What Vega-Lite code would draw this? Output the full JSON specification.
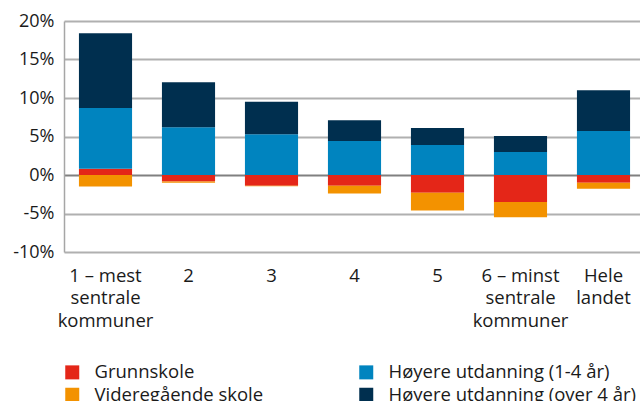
{
  "$schema": "https://vega.github.io/schema/vega-lite/v6.json",
  "width": 581,
  "height": 231,
  "autosize": "none",
  "padding": {"left": 64, "top": 21, "right": 0, "bottom": 149},
  "background": "white",
  "config": {"font": "Open Sans", "view": {"stroke": null}},
  "data": {
    "values": [
      {"region": "1 – mest sentrale kommuner", "series": "Grunnskole", "value": 0.8},
      {"region": "1 – mest sentrale kommuner", "series": "Videregående skole", "value": -1.5},
      {"region": "1 – mest sentrale kommuner", "series": "Høyere utdanning (1-4 år)", "value": 7.9},
      {"region": "1 – mest sentrale kommuner", "series": "Høyere utdanning (over 4 år)", "value": 9.7},
      {"region": "2", "series": "Grunnskole", "value": -0.85},
      {"region": "2", "series": "Videregående skole", "value": -0.15},
      {"region": "2", "series": "Høyere utdanning (1-4 år)", "value": 6.2},
      {"region": "2", "series": "Høyere utdanning (over 4 år)", "value": 5.85},
      {"region": "3", "series": "Grunnskole", "value": -1.4},
      {"region": "3", "series": "Videregående skole", "value": -0.05},
      {"region": "3", "series": "Høyere utdanning (1-4 år)", "value": 5.3},
      {"region": "3", "series": "Høyere utdanning (over 4 år)", "value": 4.2},
      {"region": "4", "series": "Grunnskole", "value": -1.4},
      {"region": "4", "series": "Videregående skole", "value": -1.0},
      {"region": "4", "series": "Høyere utdanning (1-4 år)", "value": 4.4},
      {"region": "4", "series": "Høyere utdanning (over 4 år)", "value": 2.7},
      {"region": "5", "series": "Grunnskole", "value": -2.3},
      {"region": "5", "series": "Videregående skole", "value": -2.3},
      {"region": "5", "series": "Høyere utdanning (1-4 år)", "value": 3.9},
      {"region": "5", "series": "Høyere utdanning (over 4 år)", "value": 2.2},
      {"region": "6 – minst sentrale kommuner", "series": "Grunnskole", "value": -3.5},
      {"region": "6 – minst sentrale kommuner", "series": "Videregående skole", "value": -2.0},
      {"region": "6 – minst sentrale kommuner", "series": "Høyere utdanning (1-4 år)", "value": 3.0},
      {"region": "6 – minst sentrale kommuner", "series": "Høyere utdanning (over 4 år)", "value": 2.05},
      {"region": "Hele landet", "series": "Grunnskole", "value": -1.0},
      {"region": "Hele landet", "series": "Videregående skole", "value": -0.8},
      {"region": "Hele landet", "series": "Høyere utdanning (1-4 år)", "value": 5.7},
      {"region": "Hele landet", "series": "Høyere utdanning (over 4 år)", "value": 5.3}
    ]
  },
  "mark": {"type": "bar"},
  "encoding": {
    "x": {
      "field": "region",
      "type": "nominal",
      "sort": null,
      "scale": {"paddingInner": 0.36, "paddingOuter": 0.18},
      "axis": {
        "title": null,
        "domain": false,
        "ticks": false,
        "labelAngle": 0,
        "labelFontSize": 18.5,
        "labelColor": "#1a1a1a",
        "labelPadding": 14,
        "labelBaseline": "top",
        "labelLineHeight": 22.5,
        "labelLimit": 200,
        "labelExpr": "datum.value == '1 – mest sentrale kommuner' ? ['1 – mest', 'sentrale', 'kommuner'] : datum.value == '6 – minst sentrale kommuner' ? ['6 – minst', 'sentrale', 'kommuner'] : datum.value == 'Hele landet' ? ['Hele', 'landet'] : datum.value"
      }
    },
    "y": {
      "field": "value",
      "type": "quantitative",
      "stack": "zero",
      "scale": {"domain": [-10, 20], "nice": false},
      "axis": {
        "title": null,
        "values": [-10, -5, 0, 5, 10, 15, 20],
        "labelExpr": "datum.value + '%'",
        "labelFontSize": 18,
        "labelColor": "#1a1a1a",
        "labelPadding": 10,
        "ticks": false,
        "domain": true,
        "domainColor": "#a6a6a6",
        "domainWidth": 1.5,
        "grid": true,
        "gridColor": {"condition": {"test": "datum.value === 0", "value": "#808080"}, "value": "#b0b0b0"},
        "gridWidth": 2
      }
    },
    "order": {"field": "series", "sort": "ascending"},
    "color": {
      "field": "series",
      "type": "nominal",
      "scale": {
        "domain": ["Grunnskole", "Videregående skole", "Høyere utdanning (1-4 år)", "Høyere utdanning (over 4 år)"],
        "range": ["#e42618", "#f39200", "#0084bf", "#002f4f"]
      },
      "legend": {
        "orient": "none",
        "legendX": -1,
        "legendY": 342,
        "columns": 2,
        "title": null,
        "symbolType": "square",
        "symbolSize": 196,
        "symbolStrokeWidth": 0,
        "labelFontSize": 18.5,
        "labelColor": "#1a1a1a",
        "labelOffset": 13,
        "labelLimit": 300,
        "rowPadding": 3.5,
        "columnPadding": 93
      }
    }
  }
}
